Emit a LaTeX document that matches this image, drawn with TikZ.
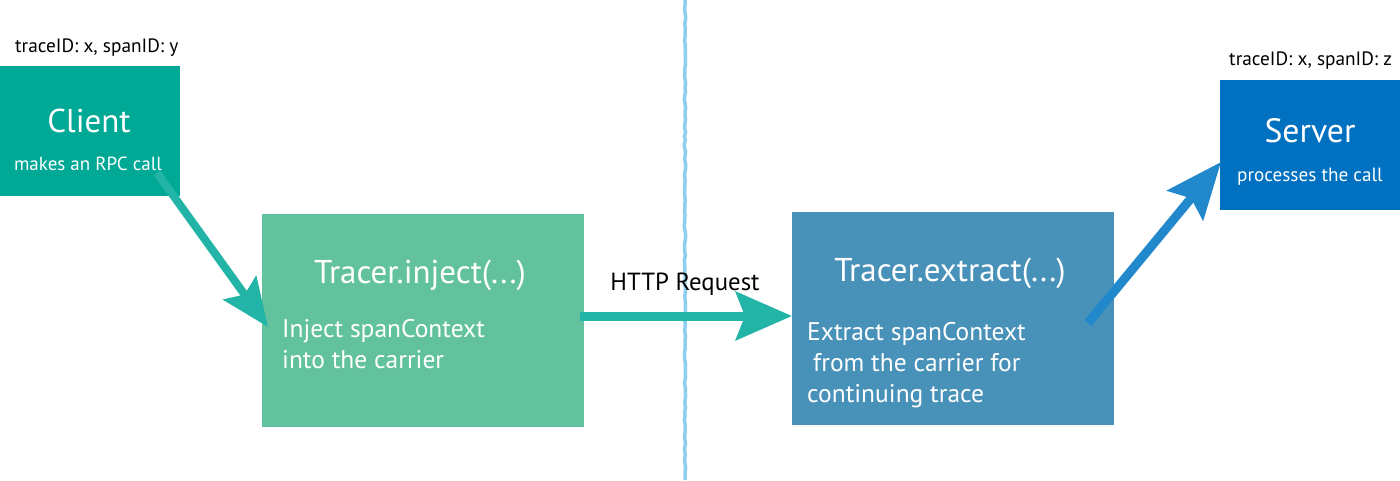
\documentclass[tikz,border=0pt]{standalone}
\usepackage{fontspec}
\setmainfont{PT Sans}
\usetikzlibrary{arrows.meta,decorations.pathmorphing}
\definecolor{clientc}{HTML}{00A896}
\definecolor{injectc}{HTML}{62C29D}
\definecolor{extractc}{HTML}{4891B9}
\definecolor{serverc}{HTML}{0070C0}
\definecolor{tealarrow}{HTML}{22B5A7}
\definecolor{bluearrow}{HTML}{2288CC}
\definecolor{divider}{HTML}{8ECFEF}
\begin{document}
\begin{tikzpicture}[x=1pt,y=-1pt,
  box/.style={draw=none,inner sep=0pt,outer sep=0pt,anchor=north west},
  wtext/.style={text=white,inner sep=0pt,anchor=base},
  wleft/.style={text=white,inner sep=0pt,anchor=base west,font=\fontsize{25.5}{30}\selectfont},
  idlabel/.style={text=black,inner sep=0pt,anchor=base west,font=\fontsize{19.3}{22}\selectfont},
  bigarrow/.style={line width=9pt,-{Stealth[length=56pt,width=48pt,inset=9pt]}},
]
\useasboundingbox (0,0) rectangle (1400,480);
\fill[white] (0,0) rectangle (1400,480);

% divider
\pgfmathsetseed{7}
\draw[divider,line width=3.5pt,decorate,decoration={random steps,segment length=4pt,amplitude=0.6pt}]
  (685,0) -- (685,480);

% boxes
\node[box,fill=clientc,minimum width=180pt,minimum height=130pt] (client) at (0,66) {};
\node[box,fill=injectc,minimum width=322pt,minimum height=213pt] (inject) at (262,214) {};
\node[box,fill=extractc,minimum width=322pt,minimum height=213pt] (extract) at (792,212) {};
\node[box,fill=serverc,minimum width=180pt,minimum height=130pt] (server) at (1220,80) {};

% labels above
\node[idlabel] (idy) at (15,52) {traceID: x, spanID: y};
\node[idlabel] (idz) at (1229,65) {traceID: x, spanID: z};

% client texts
\node[wtext,font=\fontsize{33}{36}\selectfont] (clientt) at (89,132) {Client};
\node[wtext,font=\fontsize{19}{22}\selectfont] (clients) at (88,170) {makes an RPC call};

% server texts
\node[wtext,font=\fontsize{33.7}{36}\selectfont] (servert) at (1310,142) {Server};
\node[wtext,font=\fontsize{19.2}{22}\selectfont] (servers) at (1310,181) {processes the call};

% inject texts
\node[wtext,font=\fontsize{33}{36}\selectfont] (injectt) at (420,283) {Tracer.inject(...)};
\node[wleft] (injectb1) at (282,337) {Inject spanContext};
\node[wleft] (injectb2) at (282,368) {into the carrier};

% extract texts
\node[wtext,font=\fontsize{33}{36}\selectfont] (extractt) at (950,281) {Tracer.extract(...)};
\node[wleft] (extractb1) at (807,340) {Extract spanContext};
\node[wleft] (extractb2) at (813,371) {from the carrier for};
\node[wleft] (extractb3) at (807,402) {continuing trace};

% HTTP label
\node[text=black,inner sep=0pt,anchor=base,font=\fontsize{24.8}{28}\selectfont] (http) at (685,290) {HTTP Request};

% connectors
\coordinate (cstart) at (157,173);
\coordinate (itip) at (268,327);
\coordinate (hstart) at (580,316);
\coordinate (etip) at (792,316);
\coordinate (xstart) at (1088,323);
\coordinate (stip) at (1221,162);

\draw[bigarrow,tealarrow,line width=8pt,-{Stealth[length=48pt,width=40pt,inset=8pt]}] (cstart) -- (itip);
\draw[bigarrow,tealarrow] (hstart) -- (etip);
\draw[bigarrow,bluearrow,-{Stealth[length=56pt,width=46pt,inset=9pt]}] (xstart) -- (stip);
\end{tikzpicture}
\end{document}
